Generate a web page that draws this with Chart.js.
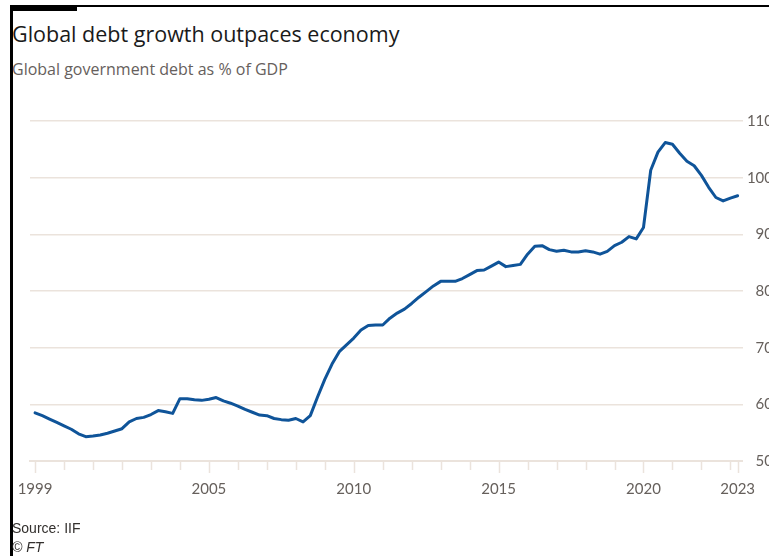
<!DOCTYPE html>
<html>
<head>
<meta charset="utf-8">
<script src="https://cdn.jsdelivr.net/npm/chart.js@4"></script>
<style>
    html, body { margin: 0; padding: 0; background: #fff; overflow: hidden; }
    body { width: 769px; height: 556px; position: relative; font-family: "Open Sans", sans-serif; }
    .topline { position: absolute; left: 10px; top: 5px; width: 760px; height: 2px; background: #000; }
    .topbar { position: absolute; left: 10px; top: 5px; width: 67px; height: 6px; background: #000; }
    .leftline { position: absolute; left: 10px; top: 5px; width: 3px; height: 551px; background: #000; }
    .title { position: absolute; left: 12px; top: 20px; font-size: 21.5px; line-height: 28px; color: #1a1a1a; white-space: nowrap; }
    .subtitle { position: absolute; left: 12px; top: 59px; font-size: 16px; line-height: 20px; color: #66605c; white-space: nowrap; }
    .source, .copy { position: absolute; left: 12px; font-family: "Liberation Sans", sans-serif; font-size: 14px; line-height: 18px; color: #33302e; white-space: nowrap; }
    .source { top: 519px; }
    .copy { top: 538px; font-style: italic; }
    #wrap { position: absolute; left: 0; top: 100px; width: 790px; height: 420px; }
</style>
</head>
<body>
<div class="topline"></div>
<div class="topbar"></div>
<div class="leftline"></div>
<div class="title">Global debt growth outpaces economy</div>
<div class="subtitle">Global government debt as % of GDP</div>
<div id="wrap"><canvas id="debtChart"></canvas></div>
<div class="source">Source: IIF</div>
<div class="copy">© FT</div>

<script>
// -----------------------------
// Données : dette publique mondiale en % du PIB, trimestrielle 1999 T1 - 2023 T2
// -----------------------------
const firstYear = 1999;
const lastYear = 2023;
const lastQuarter = 2;

const debtPct = [
    58.5, 58.0, 57.4, 56.8,   // 1999
    56.2, 55.6, 54.8, 54.3,   // 2000
    54.4, 54.6, 54.9, 55.3,   // 2001
    55.7, 56.9, 57.5, 57.7,   // 2002
    58.2, 58.9, 58.7, 58.4,   // 2003
    61.0, 61.0, 60.8, 60.7,   // 2004
    60.9, 61.2, 60.6, 60.2,   // 2005
    59.7, 59.1, 58.6, 58.1,   // 2006
    58.0, 57.5, 57.3, 57.2,   // 2007
    57.5, 56.9, 58.0, 61.3,   // 2008
    64.4, 67.1, 69.3, 70.5,   // 2009
    71.7, 73.1, 73.9, 74.0,   // 2010
    74.0, 75.2, 76.1, 76.8,   // 2011
    77.8, 78.9, 79.9, 80.9,   // 2012
    81.7, 81.7, 81.7, 82.2,   // 2013
    82.9, 83.6, 83.7, 84.4,   // 2014
    85.1, 84.3, 84.5, 84.7,   // 2015
    86.5, 87.9, 88.0, 87.3,   // 2016
    87.0, 87.2, 86.9, 86.9,   // 2017
    87.1, 86.9, 86.5, 87.0,   // 2018
    88.0, 88.6, 89.6, 89.2,   // 2019
    91.2, 101.3, 104.5, 106.2, // 2020
    105.9, 104.3, 102.9, 102.1, // 2021
    100.4, 98.3, 96.5, 95.9,  // 2022
    96.4, 96.8, 97.1          // 2023
];

// Années affichées sous l'axe
const labelledYears = [1999, 2005, 2010, 2015, 2020];
const yTicks = [50, 60, 70, 80, 90, 100, 110];

// Trimestres construits à partir des années
const quarters = [];
for (let y = firstYear; y <= lastYear; y++) {
    for (let q = 1; q <= 4; q++) {
        if (y === lastYear && q > lastQuarter) break;
        quarters.push({ year: y, q: q });
    }
}
const points = quarters.map((d, i) => ({ x: d.year + (d.q - 1) / 4, y: debtPct[i] }));
const endX = lastYear + (lastQuarter - 1) / 4;

const gridColor = '#ebe3dc';
const textColor = '#66605c';

// -----------------------------
// Petits traits sous l'axe des x
// -----------------------------
const tickMarks = {
    id: 'tickMarks',
    afterDraw(chart) {
        const scale = chart.scales.x;
        const ctx = chart.ctx;
        ctx.save();
        ctx.strokeStyle = gridColor;
        ctx.lineWidth = 1.5;
        scale.ticks.forEach(t => {
            const px = Math.round(scale.getPixelForValue(t.value)) + 0.5;
            const len = t.label ? 12 : 9;
            ctx.beginPath();
            ctx.moveTo(px, scale.top);
            ctx.lineTo(px, scale.top + len);
            ctx.stroke();
        });
        ctx.restore();
    }
};

new Chart(document.getElementById('debtChart').getContext('2d'), {
    type: 'line',
    data: {
        datasets: [{
            label: 'Global government debt as % of GDP',
            data: points,
            borderColor: '#0f5499',
            borderWidth: 3,
            tension: 0,
            pointRadius: 0,
            borderJoinStyle: 'round',
            borderCapStyle: 'round'
        }]
    },
    options: {
        responsive: true,
        maintainAspectRatio: false,
        animation: false,
        layout: { padding: { top: 21, left: 30, right: 17, bottom: 0 } },
        plugins: { legend: { display: false }, tooltip: { enabled: false } },
        scales: {
            x: {
                type: 'linear',
                min: firstYear - 0.175,
                max: endX + 0.175,
                grid: { display: false },
                border: { display: true, color: gridColor, width: 2 },
                afterBuildTicks: scale => {
                    const ticks = [];
                    for (let y = firstYear; y <= lastYear; y++) ticks.push({ value: y });
                    ticks.push({ value: endX });
                    scale.ticks = ticks;
                },
                afterFit: scale => { scale.height = 59; },
                ticks: {
                    autoSkip: false,
                    maxRotation: 0,
                    padding: 11,
                    color: textColor,
                    font: { family: 'Lato', size: 15 },
                    callback: value => {
                        if (value === endX) return String(lastYear);
                        return labelledYears.includes(value) ? String(value) : '';
                    }
                }
            },
            y: {
                position: 'right',
                min: yTicks[0],
                max: yTicks[yTicks.length - 1],
                grid: { color: gridColor, lineWidth: 1.5, drawTicks: false },
                border: { display: false },
                afterBuildTicks: scale => { scale.ticks = yTicks.map(v => ({ value: v })); },
                afterFit: scale => { scale.width = 30.3; },
                ticks: {
                    crossAlign: 'far',
                    padding: 0,
                    color: textColor,
                    font: { family: 'Lato', size: 15 }
                }
            }
        }
    },
    plugins: [tickMarks]
});
</script>
</body>
</html>
